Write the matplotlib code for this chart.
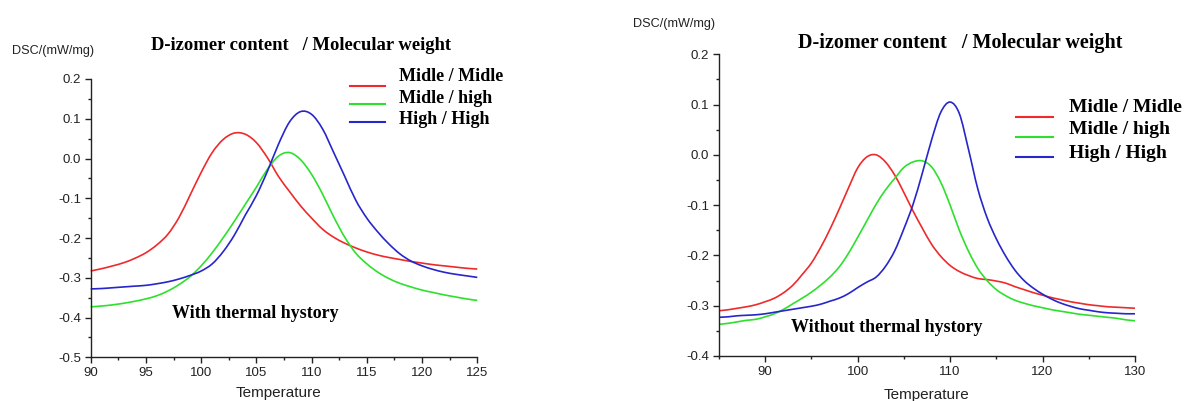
import numpy as np
import matplotlib
matplotlib.use("Agg")
import matplotlib.pyplot as plt
from matplotlib.lines import Line2D
from matplotlib.path import Path
from matplotlib.patches import PathPatch
from matplotlib.ticker import MultipleLocator, FormatStrFormatter

# ---------------- data ----------------
temp_left = list(range(90, 126))
left_mm = [-0.283, -0.277, -0.270, -0.262, -0.251, -0.237, -0.217, -0.190, -0.148, -0.092,
           -0.035, 0.015, 0.048, 0.064, 0.061, 0.040, 0.002, -0.045, -0.083, -0.119,
           -0.150, -0.178, -0.198, -0.213, -0.225, -0.235, -0.243, -0.249, -0.254, -0.259,
           -0.263, -0.267, -0.270, -0.273, -0.276, -0.278]
left_mh = [-0.373, -0.371, -0.368, -0.364, -0.359, -0.353, -0.345, -0.333, -0.317, -0.297,
           -0.270, -0.237, -0.199, -0.158, -0.115, -0.072, -0.027, 0.006, 0.015, -0.003,
           -0.040, -0.090, -0.147, -0.198, -0.238, -0.265, -0.286, -0.302, -0.314, -0.323,
           -0.331, -0.337, -0.343, -0.348, -0.353, -0.357]
left_hh = [-0.328, -0.327, -0.325, -0.323, -0.321, -0.319, -0.315, -0.310, -0.303, -0.294,
           -0.283, -0.265, -0.234, -0.193, -0.142, -0.093, -0.032, 0.036, 0.092, 0.118,
           0.111, 0.074, 0.015, -0.045, -0.105, -0.150, -0.185, -0.215, -0.240, -0.258,
           -0.270, -0.279, -0.286, -0.291, -0.295, -0.299]

temp_right = list(range(85, 131))
right_mm = [-0.310, -0.308, -0.305, -0.302, -0.298, -0.292, -0.285, -0.274, -0.259, -0.238,
            -0.215, -0.184, -0.148, -0.108, -0.066, -0.026, -0.004, 0.000, -0.014, -0.040,
            -0.075, -0.112, -0.146, -0.178, -0.202, -0.220, -0.232, -0.240, -0.246, -0.248,
            -0.251, -0.255, -0.262, -0.268, -0.274, -0.279, -0.284, -0.288, -0.292, -0.295,
            -0.298, -0.300, -0.302, -0.303, -0.304, -0.305]
right_mh = [-0.337, -0.335, -0.332, -0.329, -0.327, -0.322, -0.316, -0.307, -0.296, -0.285,
            -0.273, -0.259, -0.243, -0.223, -0.196, -0.164, -0.131, -0.098, -0.070, -0.047,
            -0.025, -0.014, -0.012, -0.024, -0.055, -0.100, -0.150, -0.192, -0.226, -0.250,
            -0.268, -0.280, -0.289, -0.295, -0.300, -0.304, -0.308, -0.311, -0.314, -0.317,
            -0.319, -0.321, -0.323, -0.325, -0.328, -0.330]
right_hh = [-0.323, -0.322, -0.320, -0.319, -0.318, -0.316, -0.313, -0.310, -0.307, -0.304,
            -0.301, -0.297, -0.291, -0.285, -0.276, -0.264, -0.253, -0.243, -0.222, -0.191,
            -0.147, -0.098, -0.036, 0.030, 0.085, 0.105, 0.082, 0.010, -0.068, -0.125,
            -0.167, -0.201, -0.229, -0.250, -0.265, -0.277, -0.287, -0.295, -0.301, -0.306,
            -0.309, -0.312, -0.314, -0.315, -0.316, -0.316]

series_labels = ["Midle / Midle", "Midle / high", "High / High"]
series_colors = ["#ee2a2a", "#2ee02e", "#2626cc"]
title_text = "D-izomer content   / Molecular weight"
ylabel_text = "DSC/(mW/mg)"
xlabel_text = "Temperature"

# ---------------- figure ----------------
plt.rcParams['axes.unicode_minus'] = False
W, H = 1185, 401
fig = plt.figure(figsize=(W / 100, H / 100), dpi=100)
fig.patch.set_facecolor("white")

def fx(x):
    return x / W

def fy(y):
    return 1 - y / H

SANS = "Liberation Sans"
SERIF = "Liberation Serif"

def smooth_curve(ax, xs, ys, color, lw=1.2):
    """Draw a smooth Catmull-Rom (cubic Bezier) curve through the data points."""
    x = np.asarray(xs, float)
    y = np.asarray(ys, float)
    n = len(x)
    verts = [(x[0], y[0])]
    codes = [Path.MOVETO]
    for i in range(n - 1):
        x0, y0 = (x[i - 1], y[i - 1]) if i > 0 else (x[i], y[i])
        x3, y3 = (x[i + 2], y[i + 2]) if i + 2 < n else (x[i + 1], y[i + 1])
        c1 = (x[i] + (x[i + 1] - x0) / 6, y[i] + (y[i + 1] - y0) / 6)
        c2 = (x[i + 1] - (x3 - x[i]) / 6, y[i + 1] - (y3 - y[i]) / 6)
        verts += [c1, c2, (x[i + 1], y[i + 1])]
        codes += [Path.CURVE4] * 3
    patch = PathPatch(Path(verts, codes), facecolor="none", edgecolor=color, lw=lw,
                      transform=ax.transData, clip_on=False)
    ax.add_patch(patch)

def style_axes(ax, xmaj, xmin, ymaj, ymin):
    for s in ("top", "right"):
        ax.spines[s].set_visible(False)
    for s in ("left", "bottom"):
        ax.spines[s].set_color("#222222")
        ax.spines[s].set_linewidth(1.0)
    ax.xaxis.set_major_locator(MultipleLocator(xmaj))
    ax.xaxis.set_minor_locator(MultipleLocator(xmin))
    ax.yaxis.set_major_locator(MultipleLocator(ymaj))
    ax.yaxis.set_minor_locator(MultipleLocator(ymin))
    ax.yaxis.set_major_formatter(FormatStrFormatter("%.1f"))
    ax.tick_params(which="major", direction="out", length=4, width=1, color="#222222",
                   labelsize=9.5, pad=3)
    ax.tick_params(which="minor", direction="out", length=2.5, width=1, color="#222222")
    for lab in ax.get_xticklabels() + ax.get_yticklabels():
        lab.set_fontfamily(SANS)
        lab.set_color("#222222")

# ---- left panel ----
axL = fig.add_axes([fx(90.7), fy(357.3), (477.3 - 90.7) / W, (357.3 - 79) / H])
for vals, c in zip([left_mm, left_mh, left_hh], series_colors):
    smooth_curve(axL, temp_left, vals, c)
axL.set_xlim(90, 125)
axL.set_ylim(-0.5, 0.2)
style_axes(axL, 5, 2.5, 0.1, 0.05)

# ---- right panel ----
axR = fig.add_axes([fx(719), fy(356), (1135 - 719) / W, (356 - 54.3) / H])
for vals, c in zip([right_mm, right_mh, right_hh], series_colors):
    smooth_curve(axR, temp_right, vals, c)
axR.set_xlim(85, 130)
axR.set_ylim(-0.4, 0.2)
style_axes(axR, 10, 5, 0.1, 0.05)

# ---- texts ----
def ftext(x, y, s, **kw):
    fig.text(fx(x), fy(y), s, **kw)

# left
ftext(11.7, 50.7, ylabel_text, family=SANS, fontsize=9.1, va="center", ha="left", color="#222222")
ftext(301, 45, title_text, family=SERIF, fontsize=13.4, fontweight="bold", va="center", ha="center")
ftext(278, 393, xlabel_text, family=SANS, fontsize=11, va="center", ha="center", color="#222222")
ftext(255, 314, "With thermal hystory", family=SERIF, fontsize=13, fontweight="bold",
      va="center", ha="center")
for lab, c, ty, ly in zip(series_labels, series_colors, [76.7, 98.3, 120], [85.7, 104, 122.3]):
    fig.add_artist(Line2D([fx(350), fx(385)], [fy(ly), fy(ly)], color=c, lw=1.5))
    ftext(399, ty, lab, family=SERIF, fontsize=13, fontweight="bold", va="center", ha="left")

# right
ftext(632.7, 24, ylabel_text, family=SANS, fontsize=9.1, va="center", ha="left", color="#222222")
ftext(960, 43.3, title_text, family=SERIF, fontsize=14.5, fontweight="bold", va="center", ha="center")
ftext(927, 395, xlabel_text, family=SANS, fontsize=11, va="center", ha="center", color="#222222")
ftext(887, 327.7, "Without thermal hystory", family=SERIF, fontsize=13, fontweight="bold",
      va="center", ha="center")
for lab, c, ty, ly in zip(series_labels, series_colors, [107.7, 130, 153.3], [116.7, 136.7, 156.7]):
    fig.add_artist(Line2D([fx(1015.7), fx(1053.3)], [fy(ly), fy(ly)], color=c, lw=1.5))
    ftext(1069, ty, lab, family=SERIF, fontsize=14, fontweight="bold", va="center", ha="left")

fig.savefig("out.png", dpi=100, facecolor="white")
